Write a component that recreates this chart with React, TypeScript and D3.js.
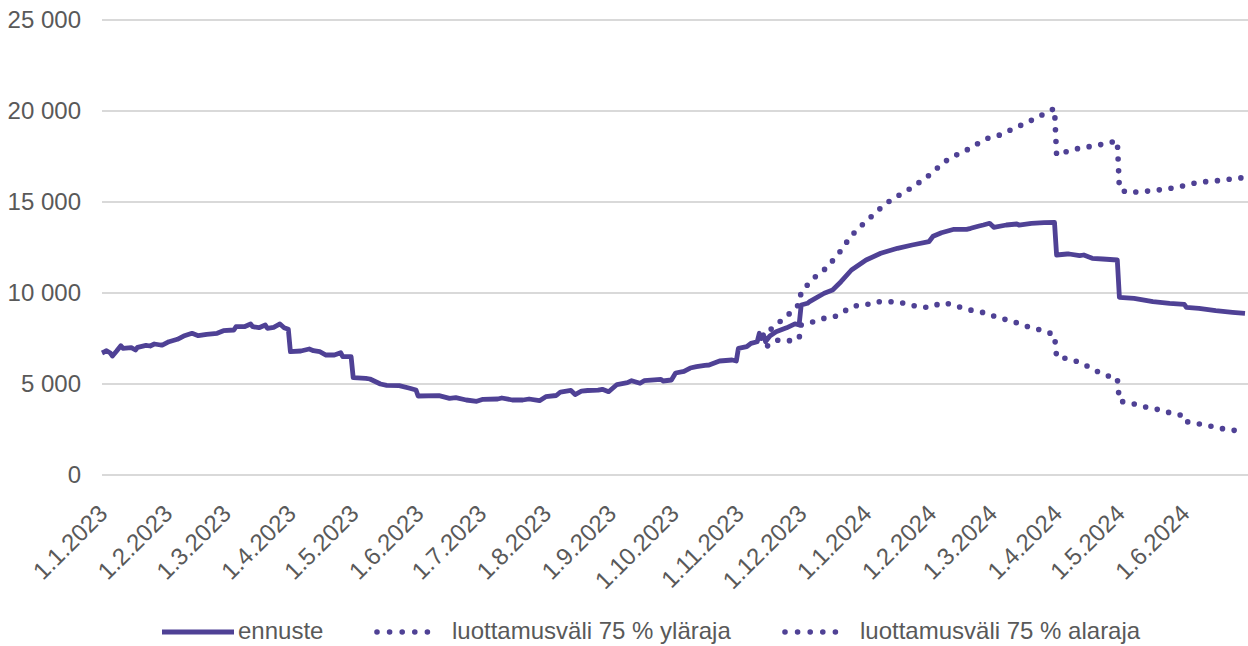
import React from "react";
import * as d3 from "d3";

// ---- DATA ----
const forecastDates = [
  "2023-01-01","2023-01-02","2023-01-03","2023-01-05","2023-01-06","2023-01-08","2023-01-10","2023-01-11",
  "2023-01-15","2023-01-17","2023-01-18","2023-01-22","2023-01-24","2023-01-26","2023-01-29","2023-01-30",
  "2023-02-02","2023-02-06","2023-02-09","2023-02-13","2023-02-16","2023-02-20","2023-02-25","2023-02-28",
  "2023-03-05","2023-03-06","2023-03-10","2023-03-13","2023-03-14","2023-03-17","2023-03-20","2023-03-21",
  "2023-03-24","2023-03-27","2023-03-29","2023-03-31","2023-04-01","2023-04-06","2023-04-10","2023-04-12",
  "2023-04-15","2023-04-18","2023-04-22","2023-04-25","2023-04-26","2023-04-30","2023-05-01","2023-05-07",
  "2023-05-09","2023-05-14","2023-05-17","2023-05-23","2023-05-28","2023-05-31","2023-06-01","2023-06-11",
  "2023-06-16","2023-06-19","2023-06-24","2023-06-29","2023-07-02","2023-07-09","2023-07-11","2023-07-16",
  "2023-07-21","2023-07-24","2023-07-29","2023-08-01","2023-08-06","2023-08-08","2023-08-13","2023-08-15",
  "2023-08-18","2023-08-21","2023-08-26","2023-08-28","2023-08-31","2023-09-04","2023-09-09","2023-09-11",
  "2023-09-15","2023-09-17","2023-09-25","2023-09-26","2023-09-30","2023-10-02","2023-10-06","2023-10-09",
  "2023-10-12","2023-10-16","2023-10-18","2023-10-23","2023-10-29","2023-10-31","2023-11-01","2023-11-05",
  "2023-11-07","2023-11-10","2023-11-11","2023-11-12","2023-11-13","2023-11-14","2023-11-16","2023-11-19",
  "2023-11-24","2023-11-28","2023-11-30","2023-12-01","2023-12-04","2023-12-05","2023-12-12","2023-12-16",
  "2023-12-20","2023-12-25","2024-01-01","2024-01-08","2024-01-16","2024-01-23","2024-01-31","2024-02-02",
  "2024-02-06","2024-02-12","2024-02-18","2024-02-20","2024-02-24","2024-02-26","2024-02-29","2024-03-02",
  "2024-03-08","2024-03-13","2024-03-14","2024-03-20","2024-03-26","2024-03-31","2024-04-01","2024-04-06",
  "2024-04-07","2024-04-12","2024-04-14","2024-04-18","2024-04-23","2024-04-30","2024-05-01","2024-05-08",
  "2024-05-17","2024-05-25","2024-06-01","2024-06-02","2024-06-08","2024-06-16","2024-06-24","2024-06-30",
];
const forecastValues = [
  6703, 6758, 6830, 6703, 6538, 6813, 7104, 6961,
  6994, 6868, 7016, 7126, 7088, 7198, 7143, 7143,
  7324, 7456, 7637, 7786, 7654, 7731, 7786, 7928,
  7967, 8148, 8148, 8297, 8148, 8093, 8242, 8060,
  8115, 8297, 8093, 8005, 6775, 6813, 6923, 6830,
  6775, 6593, 6593, 6720, 6500, 6500, 5346, 5313,
  5275, 5000, 4929, 4907, 4764, 4670, 4341, 4357,
  4214, 4247, 4121, 4049, 4159, 4176, 4231, 4121,
  4121, 4176, 4082, 4302, 4368, 4560, 4643, 4423,
  4604, 4643, 4659, 4709, 4577, 4972, 5071, 5181,
  5038, 5181, 5258, 5165, 5220, 5604, 5698, 5879,
  5951, 6027, 6044, 6264, 6319, 6264, 6962, 7049,
  7236, 7324, 7786, 7500, 7700, 7324, 7637, 7874,
  8088, 8308, 8242, 9341, 9434, 9522, 9984, 10165,
  10621, 11264, 11813, 12181, 12456, 12637, 12819, 13115,
  13313, 13500, 13500, 13555, 13681, 13736, 13830, 13610,
  13736, 13791, 13736, 13830, 13862, 13885, 12088, 12143,
  12143, 12049, 12088, 11907, 11868, 11813, 9764, 9709,
  9522, 9434, 9379, 9214, 9159, 9027, 8939, 8884,
];

const upperDates = [
  "2023-11-12","2023-11-19","2023-11-22","2023-11-27","2023-11-30","2023-12-01","2023-12-05","2023-12-09",
  "2023-12-14","2023-12-17","2023-12-21","2023-12-24","2023-12-28","2024-01-01","2024-01-05","2024-01-09",
  "2024-01-14","2024-01-19","2024-01-24","2024-01-28","2024-02-02","2024-02-06","2024-02-11","2024-02-16",
  "2024-02-21","2024-02-26","2024-03-01","2024-03-05","2024-03-11","2024-03-16","2024-03-21","2024-03-26",
  "2024-03-31","2024-04-01","2024-04-08","2024-04-14","2024-04-19","2024-04-25","2024-04-30","2024-05-01",
  "2024-05-05","2024-05-11","2024-05-17","2024-05-23","2024-05-29","2024-06-03","2024-06-09","2024-06-15",
  "2024-06-20","2024-06-26","2024-06-30",
];
const upperValues = [
  7650, 8203, 8555, 9011, 9396, 10071, 10566, 11044,
  11445, 11940, 12456, 13038, 13500, 13956, 14341, 14780,
  15203, 15511, 15879, 16209, 16632, 17088, 17473, 17731,
  18038, 18407, 18588, 18681, 19011, 19269, 19544, 19835,
  20137, 17582, 17857, 18005, 18077, 18225, 18368, 15714,
  15511, 15566, 15621, 15714, 15808, 15973, 16099, 16154,
  16209, 16302, 16346,
];

const lowerDates = [
  "2023-11-12","2023-11-15","2023-11-20","2023-11-26","2023-11-30","2023-12-01","2023-12-06","2023-12-12",
  "2023-12-17","2023-12-22","2023-12-26","2024-01-01","2024-01-05","2024-01-10","2024-01-16","2024-01-21",
  "2024-01-27","2024-02-01","2024-02-06","2024-02-11","2024-02-17","2024-02-22","2024-02-28","2024-03-04",
  "2024-03-09","2024-03-15","2024-03-20","2024-03-26","2024-03-31","2024-04-01","2024-04-08","2024-04-14",
  "2024-04-19","2024-04-24","2024-04-30","2024-05-01","2024-05-08","2024-05-14","2024-05-19","2024-05-25",
  "2024-05-31","2024-06-01","2024-06-09","2024-06-15","2024-06-20","2024-06-26","2024-06-30",
];
const lowerValues = [
  7650, 7088, 7418, 7379, 7500, 8242, 8390, 8610,
  8698, 9027, 9286, 9341, 9522, 9522, 9522, 9379,
  9214, 9214, 9467, 9379, 9137, 9011, 8885, 8626,
  8516, 8280, 8077, 7929, 7692, 6484, 6357, 6082,
  5769, 5495, 5313, 4066, 3901, 3720, 3610, 3423,
  3270, 2950, 2786, 2654, 2527, 2434, 2390,
];

const xTickLabels = [
  "1.1.2023","1.2.2023","1.3.2023","1.4.2023","1.5.2023","1.6.2023","1.7.2023","1.8.2023","1.9.2023",
  "1.10.2023","1.11.2023","1.12.2023","1.1.2024","1.2.2024","1.3.2024","1.4.2024","1.5.2024","1.6.2024",
];
const yTicks = [0, 5000, 10000, 15000, 20000, 25000];
const seriesNames = ["ennuste", "luottamusväli 75 % yläraja", "luottamusväli 75 % alaraja"];
const xDomain = ["2023-01-01", "2024-06-30"];

// ---- CHART ----
const W = 1248;
const H = 646;
const M = { left: 102, right: 1245, top: 20, bottom: 475 };
const COLOR = "#4F4195";
const TEXT = "#595959";
const FONT = "'Liberation Sans', Arial, Helvetica, sans-serif";

export default function App() {
  const parse = d3.utcParse("%Y-%m-%d");
  const parseTick = d3.utcParse("%d.%m.%Y");
  const x = d3
    .scaleUtc()
    .domain(xDomain.map((s) => parse(s) as Date))
    .range([M.left, M.right]);
  const y = d3.scaleLinear().domain([0, 25000]).range([M.bottom, M.top]);
  const line = d3
    .line<[Date, number]>()
    .x((d) => x(d[0]))
    .y((d) => y(d[1]));
  const zip = (ds: string[], vs: number[]) =>
    ds.map((s, i) => [parse(s) as Date, vs[i]] as [Date, number]);

  const fmt = (v: number) => d3.format(",")(v).replace(/,/g, " ");

  const forecast = zip(forecastDates, forecastValues);
  const upper = zip(upperDates, upperValues);
  const lower = zip(lowerDates, lowerValues);

  const dotted = { strokeDasharray: "0 11.8", strokeLinecap: "round" as const };

  const legendItems = [
    { x0: 162, x1: 234, tx: 238, dots: false },
    { x0: 377, x1: 440, tx: 452, dots: true },
    { x0: 785, x1: 848, tx: 860, dots: true },
  ];

  return (
    <svg
      width={W}
      height={H}
      style={{ position: "absolute", left: 0, top: 0, background: "#fff" }}
      fontFamily={FONT}
    >
      {yTicks.map((t) => (
        <line
          key={"g" + t}
          x1={M.left}
          x2={W}
          y1={y(t)}
          y2={y(t)}
          stroke="#d9d9d9"
          strokeWidth={2}
        />
      ))}
      {yTicks.map((t) => (
        <text
          key={"y" + t}
          x={81}
          y={y(t)}
          dy="0.35em"
          textAnchor="end"
          fontSize={24}
          fill={TEXT}
        >
          {fmt(t)}
        </text>
      ))}
      {xTickLabels.map((lab) => {
        const d = parseTick(lab) as Date;
        const px = x(d) + 7;
        return (
          <text
            key={"x" + lab}
            transform={`translate(${px},${515}) rotate(-45)`}
            textAnchor="end"
            fontSize={24}
            fill={TEXT}
          >
            {lab}
          </text>
        );
      })}
      <path d={line(upper) || ""} fill="none" stroke={COLOR} strokeWidth={5.6} {...dotted} />
      <path d={line(lower) || ""} fill="none" stroke={COLOR} strokeWidth={5.6} {...dotted} />
      <path
        d={line(forecast) || ""}
        fill="none"
        stroke={COLOR}
        strokeWidth={4.8}
        strokeLinejoin="round"
      />
      {legendItems.map((it, i) => (
        <g key={"l" + i}>
          {it.dots ? (
            <line
              x1={it.x0}
              x2={it.x1}
              y1={632}
              y2={632}
              stroke={COLOR}
              strokeWidth={5.6}
              strokeDasharray="0 12.6"
              strokeLinecap="round"
            />
          ) : (
            <line x1={it.x0} x2={it.x1} y1={632} y2={632} stroke={COLOR} strokeWidth={4.8} />
          )}
          <text x={it.tx} y={639} fontSize={24} fill={TEXT}>
            {seriesNames[i]}
          </text>
        </g>
      ))}
    </svg>
  );
}
